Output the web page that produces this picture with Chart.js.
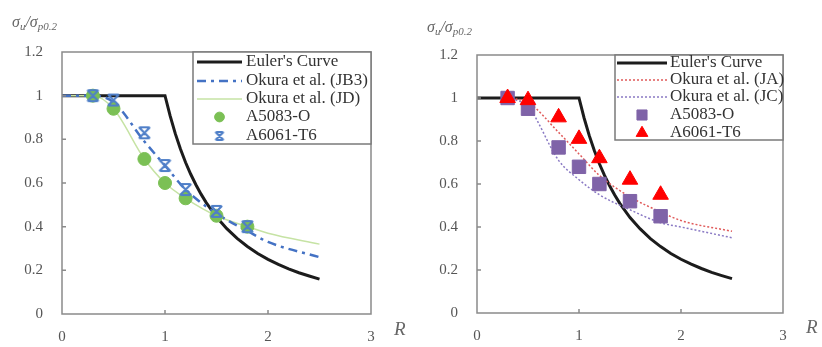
<!DOCTYPE html>
<html>
<head>
<meta charset="utf-8">
<script src="https://cdn.jsdelivr.net/npm/chart.js@4"></script>
<style>
  html,body{margin:0;padding:0;background:#fff;}
  #wrap{position:relative;width:822px;height:347px;overflow:hidden;}
  canvas{position:absolute;top:0;}
  .lbl{position:absolute;font-family:'Liberation Serif',serif;font-style:italic;color:#666;white-space:nowrap;}
  .lbl sub{font-size:11px;vertical-align:-3px;}
</style>
</head>
<body>
<div id="wrap">
  <canvas id="c1" width="411" height="347" style="left:0"></canvas>
  <canvas id="c2" width="411" height="347" style="left:411px"></canvas>
  <div class="lbl" style="left:12px;top:13px;font-size:16px;">σ<sub>u</sub>/σ<sub>p0.2</sub></div>
  <div class="lbl" style="left:427px;top:18px;font-size:16px;">σ<sub>u</sub>/σ<sub>p0.2</sub></div>
  <div class="lbl" style="left:394px;top:318px;font-size:19px;">R</div>
  <div class="lbl" style="left:806px;top:316px;font-size:19px;">R</div>
</div>
<script>
// ---- data ----
const X_TICKS = [0, 1, 2, 3];
const Y_TICKS = [0, 0.2, 0.4, 0.6, 0.8, 1, 1.2];

const R_EULER = [0, 1, 1.05, 1.1, 1.15, 1.2, 1.25, 1.3, 1.35, 1.4, 1.5, 1.6, 1.7, 1.8, 1.9, 2.0, 2.1, 2.2, 2.3, 2.4, 2.5];
const EULER   = [1, 1, 0.907, 0.826, 0.756, 0.694, 0.640, 0.592, 0.549, 0.510, 0.444, 0.391, 0.346, 0.309, 0.277, 0.250, 0.227, 0.207, 0.189, 0.174, 0.160];

const R_TEST = [0.3, 0.5, 0.8, 1.0, 1.2, 1.5, 1.8];

// left panel
const R_OKURA_L = [0, 0.3, 0.5, 0.8, 1.0, 1.2, 1.5, 1.8, 2.0, 2.5];
const OKURA_JB3 = [1, 1, 0.97, 0.79, 0.68, 0.57, 0.46, 0.38, 0.33, 0.26];
const OKURA_JD  = [1, 1, 0.94, 0.71, 0.60, 0.53, 0.45, 0.40, 0.37, 0.32];
const A5083_L   = [1.00, 0.94, 0.71, 0.60, 0.53, 0.45, 0.40];
const A6061_L   = [1.00, 0.98, 0.83, 0.68, 0.57, 0.47, 0.40];

// right panel
const R_OKURA_R = [0.3, 0.5, 0.8, 1.0, 1.2, 1.5, 1.8, 2.0, 2.5];
const OKURA_JA  = [1, 0.98, 0.84, 0.74, 0.64, 0.54, 0.47, 0.43, 0.38];
const OKURA_JC  = [1, 0.96, 0.71, 0.62, 0.55, 0.48, 0.42, 0.40, 0.35];
const A5083_R   = [1.00, 0.95, 0.77, 0.68, 0.60, 0.52, 0.45];
const A6061_R   = [1.00, 0.99, 0.91, 0.81, 0.72, 0.62, 0.55];

const LEG_L = ["Euler's Curve", "Okura et al. (JB3)", "Okura et al. (JD)", "A5083-O", "A6061-T6"];
const LEG_R = ["Euler's Curve", "Okura et al. (JA)", "Okura et al. (JC)", "A5083-O", "A6061-T6"];

// ---- helpers ----
const FONT = "'Liberation Serif', 'Times New Roman', serif";
const pts = (xs, ys) => xs.map((x, i) => ({x, y: ys[i]}));

function starMarker(color, n) {
  const c = document.createElement('canvas');
  c.width = n; c.height = n;
  const g = c.getContext('2d');
  const a = 2.5, b = n - 2.5;
  g.strokeStyle = color; g.lineWidth = 2.2; g.lineCap = 'round';
  g.beginPath();
  g.moveTo(a, a); g.lineTo(b, b);
  g.moveTo(b, a); g.lineTo(a, b);
  g.moveTo(a + 1, a - 0.5); g.lineTo(b - 1, a - 0.5);
  g.moveTo(a + 1, b + 0.5); g.lineTo(b - 1, b + 0.5);
  g.stroke();
  return c;
}
const STAR = starMarker('#4F7FC8', 15);
const STAR_SMALL = starMarker('#4F7FC8', 12);

function makeChart(id, area, datasets, legend) {
  const framePlugin = {
    id: 'frame',
    afterDatasetsDraw(chart) {
      const ctx = chart.ctx, a = chart.chartArea;
      const xs = chart.scales.x, ys = chart.scales.y;
      ctx.save();
      ctx.strokeStyle = '#8a8a8a'; ctx.lineWidth = 1.5;
      ctx.beginPath();
      Y_TICKS.forEach(v => { if (v > 0 && v < 1.2) { const p = ys.getPixelForValue(v); ctx.moveTo(a.left, p); ctx.lineTo(a.left + 4, p); } });
      X_TICKS.forEach(v => { if (v > 0 && v < 3) { const p = xs.getPixelForValue(v); ctx.moveTo(p, a.bottom); ctx.lineTo(p, a.bottom - 4); } });
      ctx.stroke();
      ctx.strokeRect(a.left, a.top, a.right - a.left, a.bottom - a.top);
      // legend box
      const L = legend;
      ctx.fillStyle = '#fff';
      ctx.fillRect(L.x0, L.y0, L.x1 - L.x0, L.y1 - L.y0);
      ctx.strokeStyle = '#7a7a7a'; ctx.lineWidth = 1.5;
      ctx.strokeRect(L.x0, L.y0, L.x1 - L.x0, L.y1 - L.y0);
      ctx.font = '17px ' + FONT;
      ctx.textBaseline = 'middle';
      L.labels.forEach((t, i) => {
        const y = L.rows[i];
        const ds = datasets.find(d => d.label === t);
        const sx0 = L.s0, sx1 = L.s1, mid = (sx0 + sx1) / 2;
        if (ds.showLine) {
          ctx.save();
          ctx.strokeStyle = ds.borderColor; ctx.lineWidth = ds.borderWidth;
          ctx.setLineDash(ds.borderDash || []);
          ctx.beginPath(); ctx.moveTo(sx0, y); ctx.lineTo(sx1, y); ctx.stroke();
          ctx.restore();
        } else if (ds.pointStyle === STAR) {
          ctx.drawImage(STAR_SMALL, mid - 6, y - 6);
        } else {
          ctx.save();
          ctx.fillStyle = ds.backgroundColor; ctx.strokeStyle = ds.borderColor; ctx.lineWidth = 1;
          Chart.helpers.drawPoint(ctx, { pointStyle: ds.pointStyle, radius: ds.pointRadius * 0.75, rotation: 0, borderWidth: 1 }, mid, y);
          ctx.restore();
        }
        ctx.fillStyle = '#333';
        ctx.fillText(t, L.tx, y);
      });
      ctx.restore();
    }
  };

  return new Chart(document.getElementById(id), {
    type: 'scatter',
    data: { datasets },
    options: {
      responsive: false,
      animation: false,
      events: [],
      layout: { padding: { left: 0, top: area.top, right: 411 - area.right, bottom: 0 } },
      plugins: { legend: { display: false }, tooltip: { enabled: false } },
      scales: {
        x: {
          type: 'linear', min: 0, max: 3,
          afterBuildTicks: s => { s.ticks = X_TICKS.map(v => ({value: v})); },
          afterFit: s => { s.height = 347 - area.bottom; },
          grid: { display: true, drawOnChartArea: false, drawTicks: false },
          border: { display: false },
          ticks: { padding: 14, color: '#555', font: { family: FONT, size: 15 } }
        },
        y: {
          type: 'linear', min: 0, max: 1.2,
          afterBuildTicks: s => { s.ticks = Y_TICKS.map(v => ({value: v})); },
          afterFit: s => { s.width = area.left; },
          grid: { display: true, drawOnChartArea: false, drawTicks: false },
          border: { display: false },
          ticks: { padding: 19, color: '#555', font: { family: FONT, size: 15 },
                   callback: v => String(Math.round(v * 10) / 10) }
        }
      }
    },
    plugins: [framePlugin]
  });
}

const eulerDs = () => ({ label: "Euler's Curve", data: pts(R_EULER, EULER), showLine: true, borderColor: '#1c1c1c',
  borderWidth: 3, pointRadius: 0, tension: 0, order: 3 });

// left chart
const dsL = [
  eulerDs(),
  { label: 'Okura et al. (JB3)', data: pts(R_OKURA_L, OKURA_JB3), showLine: true, borderColor: '#4472C4', borderWidth: 2.5,
    borderDash: [9, 5, 3, 5], pointRadius: 0, cubicInterpolationMode: 'monotone', order: 2 },
  { label: 'Okura et al. (JD)', data: pts(R_OKURA_L, OKURA_JD), showLine: true, borderColor: '#C6E3A4', borderWidth: 1.5,
    pointRadius: 0, cubicInterpolationMode: 'monotone', order: 2 },
  { label: 'A5083-O', data: pts(R_TEST, A5083_L), showLine: false, pointStyle: 'circle', pointRadius: 6.5,
    backgroundColor: '#7BC055', borderColor: '#7BC055', borderWidth: 1, order: 1 },
  { label: 'A6061-T6', data: pts(R_TEST, A6061_L), showLine: false, pointStyle: STAR, pointRadius: 7,
    backgroundColor: '#4F7FC8', borderColor: '#4F7FC8', order: 0 }
];
makeChart('c1', { left: 62, right: 371, top: 52, bottom: 314 }, dsL, {
  x0: 193, y0: 52, x1: 371, y1: 144, s0: 197, s1: 242, tx: 246,
  rows: [62, 81, 99, 117, 136], labels: LEG_L
});

// right chart
const dsR = [
  eulerDs(),
  { label: 'Okura et al. (JA)', data: pts(R_OKURA_R, OKURA_JA), showLine: true, borderColor: '#E05A5A', borderWidth: 1.5,
    borderDash: [2, 2], pointRadius: 0, cubicInterpolationMode: 'monotone', order: 2 },
  { label: 'Okura et al. (JC)', data: pts(R_OKURA_R, OKURA_JC), showLine: true, borderColor: '#8A7AC4', borderWidth: 1.5,
    borderDash: [2, 2], pointRadius: 0, cubicInterpolationMode: 'monotone', order: 2 },
  { label: 'A5083-O', data: pts(R_TEST, A5083_R), showLine: false, pointStyle: 'rect', pointRadius: 9.5,
    backgroundColor: '#7F63A8', borderColor: '#7F63A8', borderWidth: 1, order: 1 },
  { label: 'A6061-T6', data: pts(R_TEST, A6061_R), showLine: false, pointStyle: 'triangle', pointRadius: 9,
    backgroundColor: '#FF0000', borderColor: '#FF0000', borderWidth: 1, order: 0 }
];
makeChart('c2', { left: 66, right: 372, top: 55, bottom: 313 }, dsR, {
  x0: 204, y0: 55, x1: 372, y1: 140, s0: 206, s1: 256, tx: 259,
  rows: [63, 80, 97, 115, 133], labels: LEG_R
});
</script>
</body>
</html>
